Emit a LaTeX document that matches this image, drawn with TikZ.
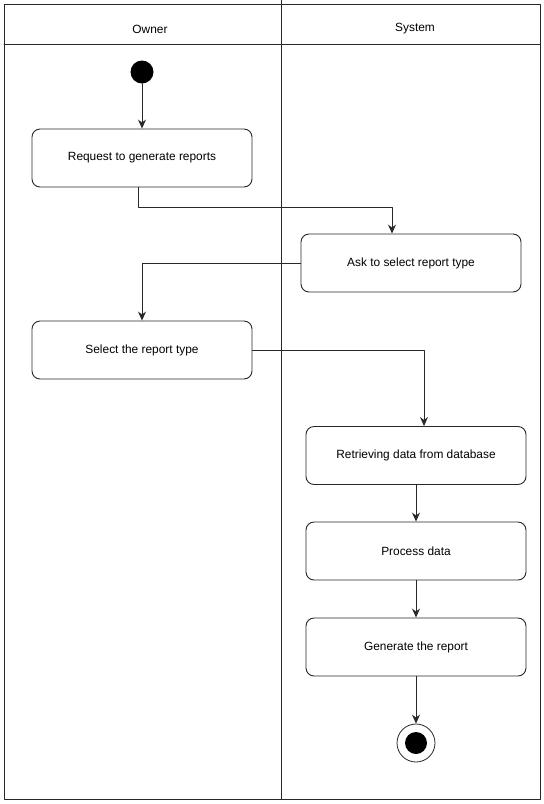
\documentclass[tikz,border=0pt]{standalone}
\usepackage{fontspec}
\setmainfont{Liberation Sans}
\usetikzlibrary{arrows.meta}
\definecolor{lineink}{RGB}{40,40,40}

\begin{document}
\begin{tikzpicture}[x=1pt,y=-1pt,line cap=round,line join=round,
  font=\fontsize{11.9}{13}\selectfont,
  lane/.style={draw=lineink,line width=0.9pt},
  act/.style={draw=lineink,line width=0.9pt,rounded corners=8pt,fill=white,
    minimum width=220pt,minimum height=58pt,inner sep=2pt},
  initnode/.style={circle,fill=black,inner sep=0pt,minimum size=23pt},
  finalnode/.style={circle,draw=lineink,line width=0.8pt,fill=white,inner sep=0pt,minimum size=38pt},
  flow/.style={draw=lineink,line width=0.9pt,-{Stealth[length=9pt,width=8pt]}}]
\useasboundingbox (0,0) rectangle (544,804);
% swimlanes
\draw[lane] (4,4) rectangle (540,799);
\draw[lane] (4,44) -- (540,44);
\draw[lane] (281,0) -- (281,799);
\node (owner) at (150,29) {Owner};
\node (system) at (415,29) {System};
% activities
\node[initnode] (start) at (142,72) {};
\node[act] (req) at (142,158) {Request to generate reports};
\node[act] (ask) at (411,263) {Ask to select report type};
\node[act] (sel) at (142,350) {Select the report type};
\node[act] (ret) at (416,455.5) {Retrieving data from database};
\node[act] (proc) at (416,551) {Process data};
\node[act] (gen) at (416,647) {Generate the report};
\node[finalnode] (stop) at (416,743) {};
\fill[black] (stop.center) circle (11pt);
% flows
\draw[flow] (start) -- (req);
\draw[flow] ([xshift=-4pt]req.south) -- ++(0,20) -| ([xshift=-19pt]ask.north);
\draw[flow] (ask.west) -| (sel.north);
\draw[flow] (sel.east) -| ([xshift=8pt]ret.north);
\draw[flow] (ret) -- (proc);
\draw[flow] (proc) -- (gen);
\draw[flow] (gen) -- (stop);
\end{tikzpicture}
\end{document}
